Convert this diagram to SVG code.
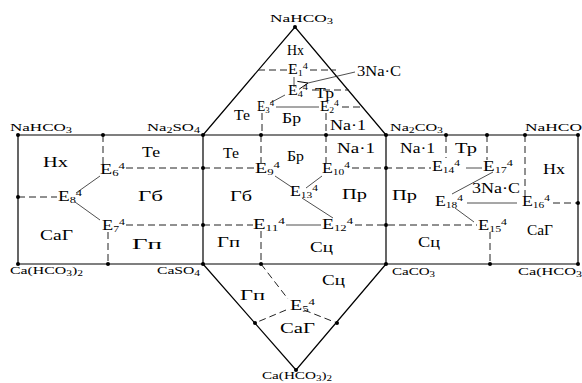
<svg xmlns="http://www.w3.org/2000/svg" width="582" height="383" viewBox="0 0 582 383">
<defs>
<style>
.t{font-family:"Liberation Serif","Times New Roman",serif;fill:#000}
.c{font-size:11px}
.r{font-size:14px}
.e{font-size:14px}
.sb{font-size:8px}
.es{font-size:9px}
.ln{stroke:#000;stroke-width:1.2;fill:none}
.d{stroke:#222;stroke-width:1;stroke-dasharray:7 4;fill:none}
.s{stroke:#222;stroke-width:0.8;fill:none}
.dot{fill:#000}
</style>
<marker id="arr" markerWidth="12" markerHeight="10" refX="1" refY="5" orient="auto" markerUnits="userSpaceOnUse">
<path d="M11,1 L1,5 L11,9" fill="none" stroke="#000" stroke-width="0.9"/>
</marker>
</defs>
<rect width="582" height="383" fill="#fff"/>

<g id="frame">
<path class="ln" d="M18,135 H578 V264 H18 Z M203,135 V264 M386,135 V264"/>
<path class="ln" d="M203,135 L295,27 L386,135"/>
<path class="ln" d="M203,264 L296,370 L386,264"/>
</g>

<g id="connectors">
<path class="d" d="M258,70 H287 M310,70 H336"/>
<path class="s" d="M294,77 V87"/>
<path class="d" d="M312,90 H349"/>
<path class="s" d="M285,95 L270,103"/>
<path class="s" d="M276,107 H319"/>
<path class="d" d="M342,107 H363"/>
<path class="d" d="M262,113 V135 M326,113 V135"/>
<line class="s" x1="355" y1="72" x2="308" y2="83" marker-end="url(#arr)"/>
<path class="d" d="M103,135 V164"/>
<path class="d" d="M126,168 H254"/>
<path class="d" d="M18,197 H57"/>
<path class="s" d="M76,193 L100,176"/>
<path class="s" d="M75,202 L100,220"/>
<path class="d" d="M126,225 H253"/>
<path class="d" d="M108,232 V264"/>
<path class="d" d="M261,135 V163 M326,135 V163"/>
<path class="d" d="M352,168 H431"/>
<path class="s" d="M275,176 L293,188"/>
<path class="s" d="M322,176 L306,188"/>
<path class="s" d="M302,198 L333,218"/>
<path class="s" d="M286,225 H321"/>
<path class="d" d="M355,225 H477"/>
<path class="d" d="M261,231 V264"/>
<path class="d" d="M446,135 V158 M487,135 V160 M525,135 V196"/>
<path class="s" d="M466,168 H482"/>
<path class="s" d="M493,172 L452,194"/>
<path class="s" d="M455,208 L474,222"/>
<path class="s" d="M467,203 H517" stroke="#666"/>
<path class="d" d="M553,203 H578"/>
<path class="d" d="M490,232 V264"/>
<path class="d" d="M261,264 L288,299"/>
<path class="d" d="M286,310 L255,323 M304,310 L337,323"/>
</g>

<g id="dots">
<circle class="dot" cx="295" cy="27" r="2"/>
<circle class="dot" cx="18" cy="135" r="2"/>
<circle class="dot" cx="103" cy="135" r="2"/>
<circle class="dot" cx="203" cy="135" r="2"/>
<circle class="dot" cx="261" cy="135" r="2"/>
<circle class="dot" cx="326" cy="135" r="2"/>
<circle class="dot" cx="386" cy="135" r="2"/>
<circle class="dot" cx="446" cy="135" r="2"/>
<circle class="dot" cx="487" cy="135" r="2"/>
<circle class="dot" cx="525" cy="135" r="2"/>
<circle class="dot" cx="578" cy="135" r="2"/>
<circle class="dot" cx="18" cy="197" r="2"/>
<circle class="dot" cx="203" cy="168" r="2"/>
<circle class="dot" cx="386" cy="168" r="2"/>
<circle class="dot" cx="203" cy="225" r="2"/>
<circle class="dot" cx="386" cy="225" r="2"/>
<circle class="dot" cx="578" cy="203" r="2"/>
<circle class="dot" cx="18" cy="264" r="2"/>
<circle class="dot" cx="108" cy="264" r="2"/>
<circle class="dot" cx="203" cy="264" r="2"/>
<circle class="dot" cx="261" cy="264" r="2"/>
<circle class="dot" cx="386" cy="264" r="2"/>
<circle class="dot" cx="490" cy="264" r="2"/>
<circle class="dot" cx="578" cy="264" r="2"/>
<circle class="dot" cx="255" cy="323" r="2"/>
<circle class="dot" cx="337" cy="323" r="2"/>
<circle class="dot" cx="296" cy="370" r="2"/>
</g>

<g id="corner-labels" class="t c">
<text x="270" y="22" textLength="63" lengthAdjust="spacingAndGlyphs">NaHCO<tspan class="sb" dy="2">3</tspan></text>
<text x="10" y="131" textLength="62" lengthAdjust="spacingAndGlyphs">NaHCO<tspan class="sb" dy="2">3</tspan></text>
<text x="147" y="131" textLength="53" lengthAdjust="spacingAndGlyphs">Na<tspan class="sb" dy="2">2</tspan><tspan dy="-2">SO</tspan><tspan class="sb" dy="2">4</tspan></text>
<text x="390" y="131" textLength="53" lengthAdjust="spacingAndGlyphs">Na<tspan class="sb" dy="2">2</tspan><tspan dy="-2">CO</tspan><tspan class="sb" dy="2">3</tspan></text>
<text x="525" y="131" textLength="57" lengthAdjust="spacingAndGlyphs">NaHCO</text>
<text x="10" y="274" textLength="73" lengthAdjust="spacingAndGlyphs">Ca(HCO<tspan class="sb" dy="2">3</tspan><tspan dy="-2">)</tspan><tspan class="sb" dy="2">2</tspan></text>
<text x="157" y="274" textLength="43" lengthAdjust="spacingAndGlyphs">CaSO<tspan class="sb" dy="2">4</tspan></text>
<text x="392" y="275" textLength="43" lengthAdjust="spacingAndGlyphs">CaCO<tspan class="sb" dy="2">3</tspan></text>
<text x="518" y="275" textLength="64" lengthAdjust="spacingAndGlyphs">Ca(HCO<tspan class="sb" dy="2">3</tspan></text>
<text x="262" y="379" textLength="70" lengthAdjust="spacingAndGlyphs">Ca(HCO<tspan class="sb" dy="2">3</tspan><tspan dy="-2">)</tspan><tspan class="sb" dy="2">2</tspan></text>
</g>

<g id="region-labels" class="t r">
<text x="287" y="55" textLength="17" lengthAdjust="spacingAndGlyphs">Нх</text>
<text x="357" y="76" textLength="44" lengthAdjust="spacingAndGlyphs">3Na·C</text>
<text x="315" y="98" textLength="19" lengthAdjust="spacingAndGlyphs">Тр</text>
<text x="234" y="120" textLength="16" lengthAdjust="spacingAndGlyphs">Те</text>
<text x="282" y="123" textLength="19" lengthAdjust="spacingAndGlyphs">Бр</text>
<text x="330" y="130" textLength="36" lengthAdjust="spacingAndGlyphs">Na·1</text>
<text x="43" y="167" textLength="25" lengthAdjust="spacingAndGlyphs">Нх</text>
<text x="142" y="157" textLength="18" lengthAdjust="spacingAndGlyphs">Те</text>
<text x="138" y="201" textLength="25" lengthAdjust="spacingAndGlyphs">Гб</text>
<text x="40" y="240" textLength="33" lengthAdjust="spacingAndGlyphs">CaГ</text>
<text x="132" y="249" textLength="30" lengthAdjust="spacingAndGlyphs">Гп</text>
<text x="223" y="158" textLength="16" lengthAdjust="spacingAndGlyphs">Те</text>
<text x="287" y="161" textLength="17" lengthAdjust="spacingAndGlyphs">Бр</text>
<text x="337" y="153" textLength="38" lengthAdjust="spacingAndGlyphs">Na·1</text>
<text x="230" y="201" textLength="22" lengthAdjust="spacingAndGlyphs">Гб</text>
<text x="342" y="199" textLength="25" lengthAdjust="spacingAndGlyphs">Пр</text>
<text x="217" y="247" textLength="23" lengthAdjust="spacingAndGlyphs">Гп</text>
<text x="310" y="252" textLength="23" lengthAdjust="spacingAndGlyphs">Сц</text>
<text x="400" y="153" textLength="35" lengthAdjust="spacingAndGlyphs">Na·1</text>
<text x="455" y="153" textLength="22" lengthAdjust="spacingAndGlyphs">Тр</text>
<text x="543" y="174" textLength="22" lengthAdjust="spacingAndGlyphs">Нх</text>
<text x="472" y="193" textLength="48" lengthAdjust="spacingAndGlyphs">3Na·C</text>
<text x="392" y="200" textLength="25" lengthAdjust="spacingAndGlyphs">Пр</text>
<text x="527" y="235" textLength="26" lengthAdjust="spacingAndGlyphs">CaГ</text>
<text x="418" y="247" textLength="22" lengthAdjust="spacingAndGlyphs">Сц</text>
<text x="240" y="300" textLength="25" lengthAdjust="spacingAndGlyphs">Гп</text>
<text x="322" y="285" textLength="23" lengthAdjust="spacingAndGlyphs">Сц</text>
<text x="280" y="333" textLength="35" lengthAdjust="spacingAndGlyphs">CaГ</text>
</g>

<g id="nodes" class="t e">
<g id="E1"><text x="288" y="74" textLength="20" lengthAdjust="spacingAndGlyphs">E<tspan class="es" dy="2">1</tspan><tspan class="es" dy="-7">4</tspan></text></g>
<g id="E4"><text x="288" y="95" textLength="20" lengthAdjust="spacingAndGlyphs">E<tspan class="es" dy="2">4</tspan><tspan class="es" dy="-7">4</tspan></text></g>
<g id="E3"><text x="257" y="111" textLength="17" lengthAdjust="spacingAndGlyphs">E<tspan class="es" dy="2">3</tspan><tspan class="es" dy="-7">4</tspan></text></g>
<g id="E2"><text x="320" y="111" textLength="19" lengthAdjust="spacingAndGlyphs">E<tspan class="es" dy="2">2</tspan><tspan class="es" dy="-7">4</tspan></text></g>
<g id="E6"><text x="100" y="174" textLength="25" lengthAdjust="spacingAndGlyphs">E<tspan class="es" dy="2">6</tspan><tspan class="es" dy="-7">4</tspan></text></g>
<g id="E8"><text x="58" y="201" textLength="24" lengthAdjust="spacingAndGlyphs">E<tspan class="es" dy="2">8</tspan><tspan class="es" dy="-7">4</tspan></text></g>
<g id="E7"><text x="102" y="230" textLength="23" lengthAdjust="spacingAndGlyphs">E<tspan class="es" dy="2">7</tspan><tspan class="es" dy="-7">4</tspan></text></g>
<g id="E9"><text x="255" y="173" textLength="25" lengthAdjust="spacingAndGlyphs">E<tspan class="es" dy="2">9</tspan><tspan class="es" dy="-7">4</tspan></text></g>
<g id="E10"><text x="322" y="173" textLength="28" lengthAdjust="spacingAndGlyphs">E<tspan class="es" dy="2">10</tspan><tspan class="es" dy="-7">4</tspan></text></g>
<g id="E13"><text x="290" y="196" textLength="28" lengthAdjust="spacingAndGlyphs">E<tspan class="es" dy="2">13</tspan><tspan class="es" dy="-7">4</tspan></text></g>
<g id="E11"><text x="253" y="229" textLength="32" lengthAdjust="spacingAndGlyphs">E<tspan class="es" dy="2">11</tspan><tspan class="es" dy="-7">4</tspan></text></g>
<g id="E12"><text x="322" y="229" textLength="31" lengthAdjust="spacingAndGlyphs">E<tspan class="es" dy="2">12</tspan><tspan class="es" dy="-7">4</tspan></text></g>
<g id="E14"><text x="432" y="171" textLength="28" lengthAdjust="spacingAndGlyphs">E<tspan class="es" dy="2">14</tspan><tspan class="es" dy="-7">4</tspan></text></g>
<g id="E17"><text x="483" y="171" textLength="30" lengthAdjust="spacingAndGlyphs">E<tspan class="es" dy="2">17</tspan><tspan class="es" dy="-7">4</tspan></text></g>
<g id="E18"><text x="435" y="206" textLength="28" lengthAdjust="spacingAndGlyphs">E<tspan class="es" dy="2">18</tspan><tspan class="es" dy="-7">4</tspan></text></g>
<g id="E16"><text x="522" y="206" textLength="28" lengthAdjust="spacingAndGlyphs">E<tspan class="es" dy="2">16</tspan><tspan class="es" dy="-7">4</tspan></text></g>
<g id="E15"><text x="478" y="230" textLength="29" lengthAdjust="spacingAndGlyphs">E<tspan class="es" dy="2">15</tspan><tspan class="es" dy="-7">4</tspan></text></g>
<g id="E5"><text x="290" y="310" textLength="25" lengthAdjust="spacingAndGlyphs">E<tspan class="es" dy="2">5</tspan><tspan class="es" dy="-7">4</tspan></text></g>
</g>
</svg>
